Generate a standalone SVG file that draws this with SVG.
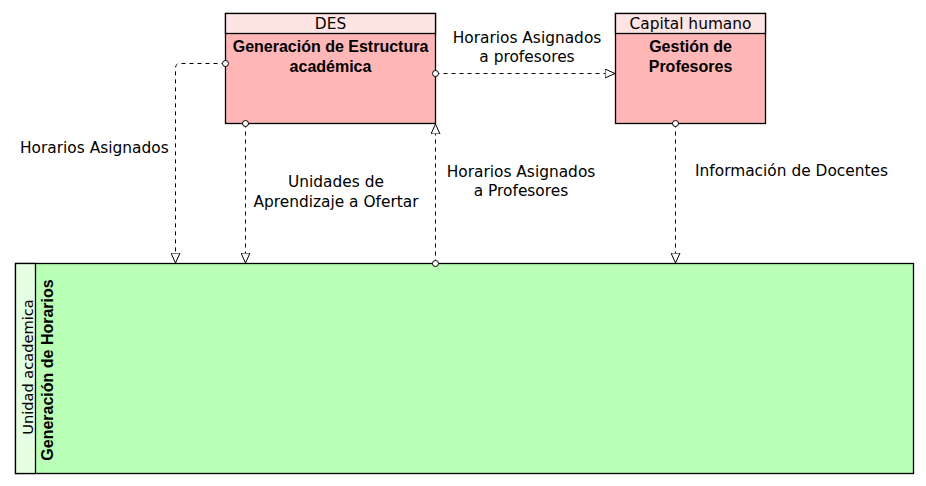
<svg xmlns="http://www.w3.org/2000/svg" width="926" height="486" viewBox="0 0 926 486">
<style>
text{font-family:"DejaVu Sans","Liberation Sans",sans-serif;font-size:15.4px;fill:#000}
.b{font-family:"Liberation Sans",Arial,sans-serif;font-weight:bold;font-size:16px}
.c{text-anchor:middle}
.box{stroke:#000;stroke-width:1.3}
.conn{fill:none;stroke:#000;stroke-width:1;stroke-dasharray:4 4}
.dot{fill:#fff;stroke:#000;stroke-width:1}
</style>
<defs>
<marker id="tri" viewBox="0 0 10 10" refX="10" refY="5" markerWidth="10" markerHeight="10" markerUnits="userSpaceOnUse" orient="auto">
<path d="M0,0.5 L10,5 L0,9.5 Z" fill="#fff" stroke="#000" stroke-width="1"/>
</marker>
</defs>
<rect width="926" height="486" fill="#fff"/>
<g id="des">
<rect class="box" x="225.5" y="13.5" width="210" height="110" fill="#ffb6b6"/>
<rect class="box" x="225.5" y="13.5" width="210" height="20" fill="#ffe4e4"/>
<text class="c" x="330.5" y="29">DES</text>
<text class="c b" x="330.5" y="52">Generación de Estructura</text>
<text class="c b" x="330.5" y="72">académica</text>
</g>
<g id="capital">
<rect class="box" x="615.5" y="13.5" width="150" height="110" fill="#ffb6b6"/>
<rect class="box" x="615.5" y="13.5" width="150" height="20" fill="#ffe4e4"/>
<text class="c" x="690.5" y="29">Capital humano</text>
<text class="c b" x="690.5" y="52">Gestión de</text>
<text class="c b" x="690.5" y="72">Profesores</text>
</g>
<g id="unidad">
<rect class="box" x="15.5" y="263.5" width="898" height="210" fill="#b9ffb5"/>
<rect class="box" x="15.5" y="263.5" width="20" height="210" fill="#e4ffe2"/>
<text class="c" style="font-size:14.6px" transform="translate(32.5 367) rotate(-90)">Unidad academica</text>
<text class="c b" transform="translate(53 370) rotate(-90)">Generación de Horarios</text>
</g>
<g id="connectors">
<path class="conn" d="M225.5,63.5 H180 Q175.5,63.5 175.5,68 V263" marker-end="url(#tri)"/>
<path class="conn" d="M245.5,123.5 V263" marker-end="url(#tri)"/>
<path class="conn" d="M435.5,263.5 V124" marker-end="url(#tri)"/>
<path class="conn" d="M435.5,73.5 H615" marker-end="url(#tri)"/>
<path class="conn" d="M675.5,123.5 V263" marker-end="url(#tri)"/>
<circle class="dot" cx="225.5" cy="63.5" r="3"/>
<circle class="dot" cx="245.5" cy="123.5" r="3"/>
<circle class="dot" cx="435.5" cy="263.5" r="3"/>
<circle class="dot" cx="435.5" cy="73.5" r="3"/>
<circle class="dot" cx="675.5" cy="123.5" r="3"/>
<text x="20" y="153">Horarios Asignados</text>
<text class="c" x="336" y="187">Unidades de</text>
<text class="c" x="336" y="207">Aprendizaje a Ofertar</text>
<text class="c" x="521" y="177">Horarios Asignados</text>
<text class="c" x="521" y="196">a Profesores</text>
<text class="c" x="527" y="43">Horarios Asignados</text>
<text class="c" x="527" y="62">a profesores</text>
<text x="695" y="176">Información de Docentes</text>
</g>
</svg>
